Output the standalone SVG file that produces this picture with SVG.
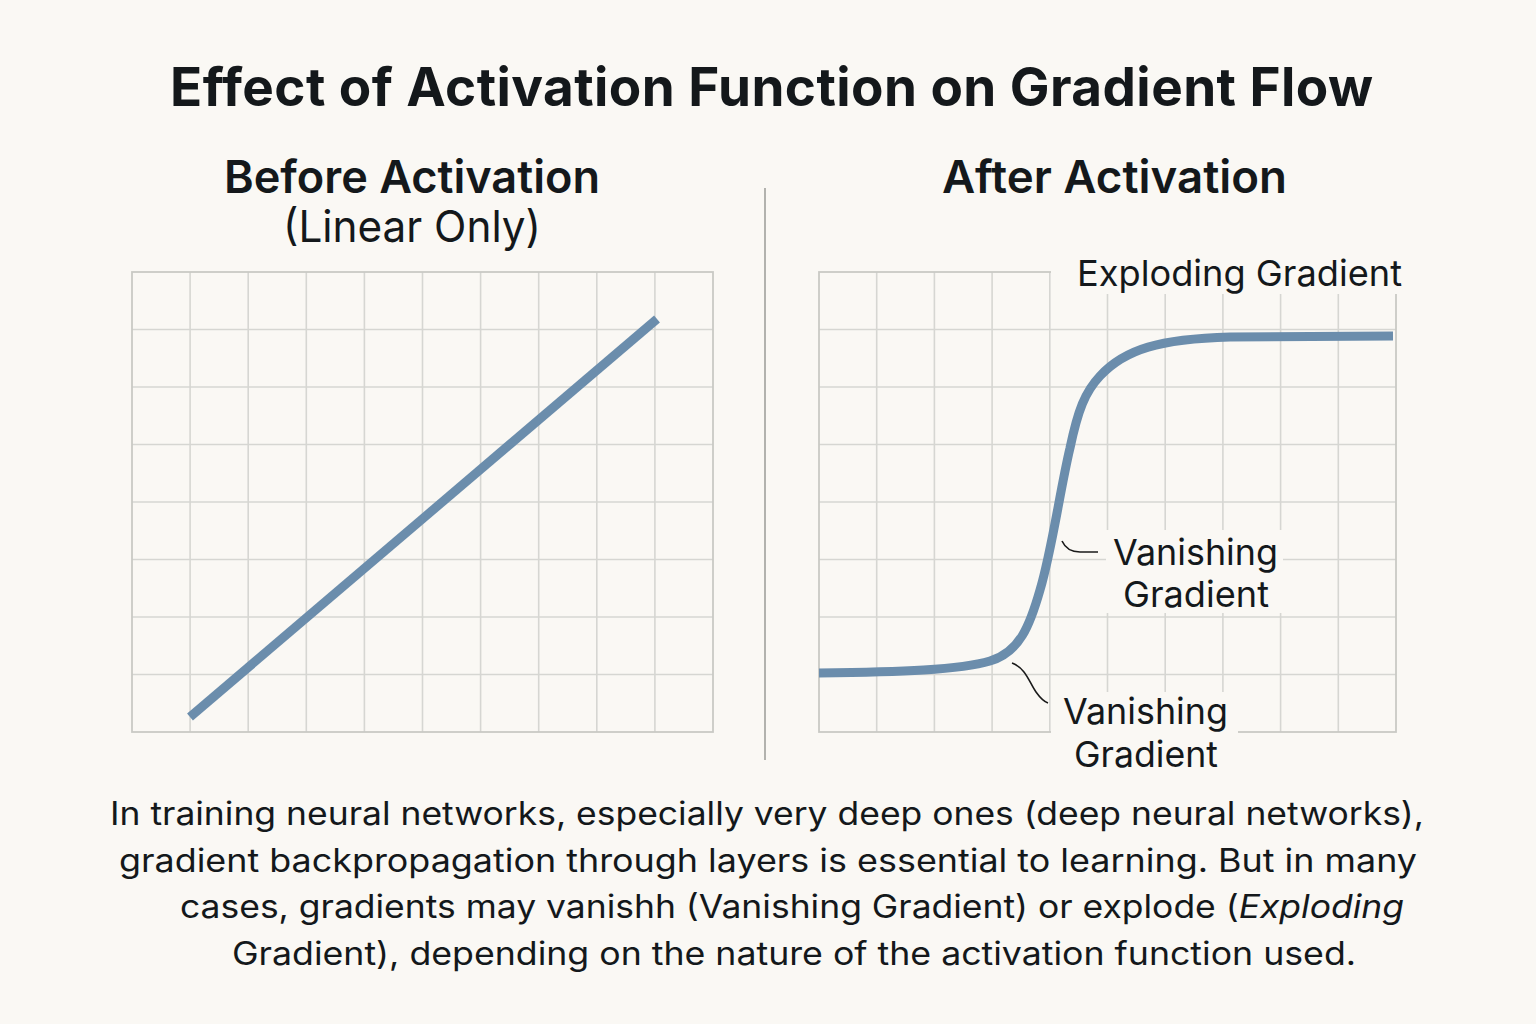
<svg xmlns="http://www.w3.org/2000/svg" width="1536" height="1024" viewBox="0 0 1536 1024">
<style>
text{font-family:Inter,"Noto Sans","Liberation Sans",sans-serif;fill:#14181b}
.title{font-size:53px;font-weight:700}
.head{font-size:45px;font-weight:600}
.sub{font-size:44px;font-weight:400}
.lbl{font-size:36px;font-weight:400}
.body{font-size:32px;font-weight:400}
.grid{stroke:#d6d6d2;stroke-width:1.6;fill:none}
.frame{stroke:#c9c9c5;stroke-width:1.8;fill:none}
.curve{stroke:#6b8dac;stroke-width:9;fill:none}
.lead{stroke:#1a1a1a;stroke-width:1.6;fill:none}
.mask{fill:#faf8f4}
</style>
<rect width="1536" height="1024" fill="#faf8f4"/>
<text class="title" x="170" y="106" textLength="1203" lengthAdjust="spacing">Effect of Activation Function on Gradient Flow</text>
<g id="left-panel">
<text class="head" x="224" y="193" textLength="376" lengthAdjust="spacingAndGlyphs">Before Activation</text>
<text class="sub" x="283" y="242" textLength="258" lengthAdjust="spacingAndGlyphs">(Linear Only)</text>
<path class="grid" d="M190.1,272V732M248.2,272V732M306.3,272V732M364.4,272V732M422.5,272V732M480.6,272V732M538.7,272V732M596.8,272V732M654.9,272V732M132,329.5H713M132,387H713M132,444.5H713M132,502H713M132,559.5H713M132,617H713M132,674.5H713"/>
<rect class="frame" x="132" y="272" width="581" height="460"/>
<path class="curve" d="M190,717L657,319"/>
</g>
<line x1="765" y1="188" x2="765" y2="760" stroke="#a0a09c" stroke-width="1.6"/>
<g id="right-panel">
<text class="head" x="942" y="193" textLength="345" lengthAdjust="spacingAndGlyphs">After Activation</text>
<path class="grid" d="M876.7,272V732M934.4,272V732M992.1,272V732M1049.8,272V732M1107.5,272V732M1165.2,272V732M1222.9,272V732M1280.6,272V732M1338.3,272V732M819,329.5H1396M819,387H1396M819,444.5H1396M819,502H1396M819,559.5H1396M819,617H1396M819,674.5H1396"/>
<rect class="frame" x="819" y="272" width="577" height="460"/>
<rect class="mask" x="1051" y="246" width="360" height="48"/>
<rect class="mask" x="1106" y="530" width="177" height="83"/>
<rect class="mask" x="1051" y="692" width="187" height="85"/>
<path class="curve" d="M819,673C900,672 960,670 990,661C1020,652 1030,625 1040,590C1052,550 1060,490 1070,448C1078,410 1085,392 1100,376C1125,349 1160,339 1230,337L1393,336"/>
</g>
<g id="connectors">
<path class="lead" d="M1062,541Q1067,552 1080,552L1098,552"/>
<path class="lead" d="M1012,663C1026,668 1030,684 1036,692C1041,699 1045,702 1048,703"/>
</g>
<g id="labels">
<text class="lbl" x="1077" y="286" textLength="325" lengthAdjust="spacingAndGlyphs">Exploding Gradient</text>
<text class="lbl" x="1113" y="565" textLength="165" lengthAdjust="spacingAndGlyphs">Vanishing</text>
<text class="lbl" x="1123" y="607" textLength="146" lengthAdjust="spacingAndGlyphs">Gradient</text>
<text class="lbl" x="1063" y="724" textLength="165" lengthAdjust="spacingAndGlyphs">Vanishing</text>
<text class="lbl" x="1074" y="767" textLength="144" lengthAdjust="spacingAndGlyphs">Gradient</text>
</g>
<g id="caption">
<text class="body" x="110" y="825" textLength="1314" lengthAdjust="spacingAndGlyphs">In training neural networks, especially very deep ones (deep neural networks),</text>
<text class="body" x="119" y="872" textLength="1298" lengthAdjust="spacingAndGlyphs">gradient backpropagation through layers is essential to learning. But in many</text>
<text class="body" x="180" y="918" textLength="1224" lengthAdjust="spacingAndGlyphs">cases, gradients may vanishh (Vanishing Gradient) or explode (<tspan font-style="italic">Exploding</tspan></text>
<text class="body" x="232" y="965" textLength="1124" lengthAdjust="spacingAndGlyphs">Gradient), depending on the nature of the activation function used.</text>
</g>
</svg>
